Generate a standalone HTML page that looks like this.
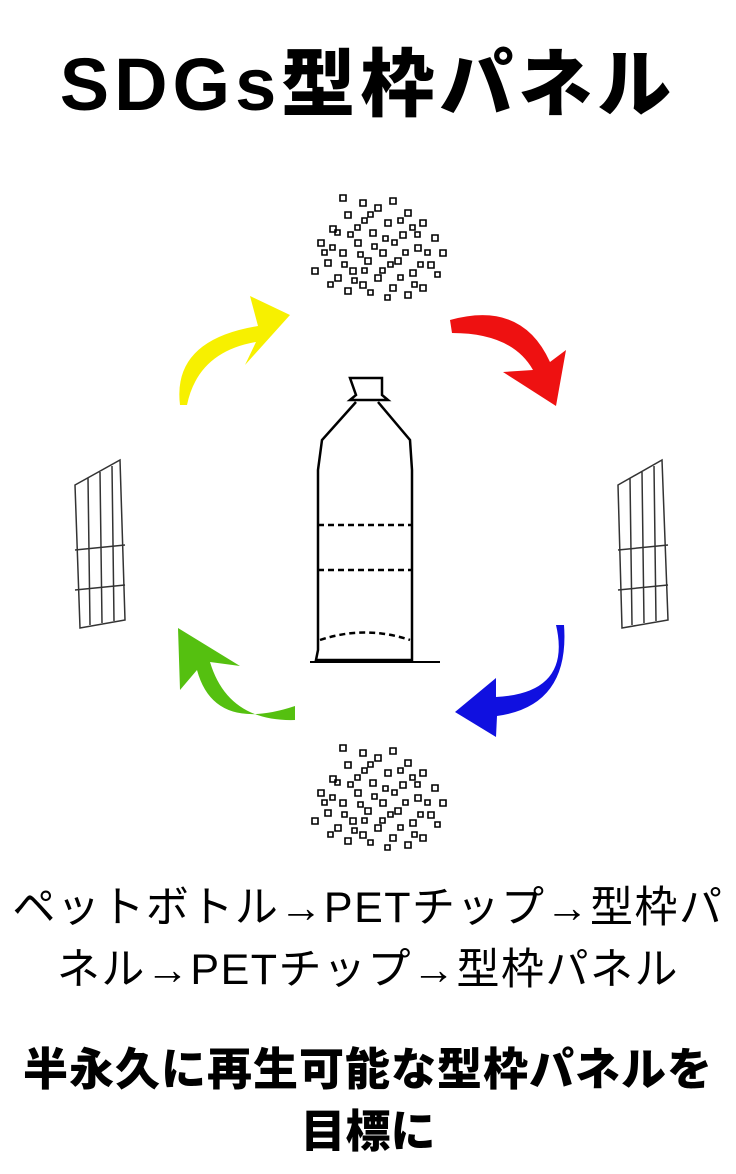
<!DOCTYPE html>
<html><head><meta charset="utf-8"><style>
body{margin:0;width:736px;height:1174px;background:#fff;position:relative;overflow:hidden;font-family:"Liberation Sans","Noto Sans CJK JP",sans-serif}
.t{position:absolute;left:0;width:736px;text-align:center;white-space:nowrap}
</style></head><body>
<div class="t" style="top:42px;font-size:74px;font-weight:900;letter-spacing:5px;line-height:86px">SDGs型枠パネル</div>
<svg width="736" height="1174" style="position:absolute;left:0;top:0" xmlns="http://www.w3.org/2000/svg">
<path d="M180,405 Q172,340 258,326 L250,296 L290,315 L245,365 L256,342 Q198,352 187,405 Z" fill="#f7f000"/>
<path d="M450,320 Q522,300 550,362 L566,350 L556,406 L503,372 L533,370 Q512,333 452,333 Z" fill="#ee1111"/>
<path d="M556,625 Q572,693 496,697 L496,678 L455,712 L496,737 L497,716 Q570,706 564,625 Z" fill="#1010e0"/>
<path d="M295,720 Q228,722 210,662 L240,666 L178,628 L180,690 L197,670 Q214,733 295,706 Z" fill="#55c010"/>
<g fill="none" stroke="#000" stroke-width="2.5">
<path d="M350,378 L382,378 L382,395 L388,400 L350,400 L356,395 Z"/>
<path d="M356,402 L322,440 L318,470 L318,650 L316,660 L412,660 L412,470 L410,440 L378,402"/>
<path d="M318,525 L412,525 M318,570 L412,570 M320,640 Q365,625 410,640" stroke-dasharray="6 4"/>
<path d="M310,662 L440,662" stroke-width="2"/>
</g>
<g fill="none" stroke="#333" stroke-width="1.5">
<path d="M75,485 L120,460 L125,620 L80,628 Z M88,478 L90,625 M100,472 L102,623 M112,466 L114,621"/>
<path d="M75,550 L125,545 M75,590 L125,585"/>
<path d="M618,485 L662,460 L668,620 L622,628 Z M630,478 L632,625 M642,472 L644,623 M654,466 L656,621"/>
<path d="M618,550 L668,545 M618,590 L668,585"/>
</g>
<g fill="none" stroke="#000" stroke-width="1.6">
<g id="pile">
<path d="M318,240 h6v6h-6z M330,226 h6v6h-6z M345,212 h6v6h-6z M360,200 h6v6h-6z M375,205 h6v6h-6z M390,198 h6v6h-6z M405,210 h6v6h-6z M420,220 h6v6h-6z M432,235 h6v6h-6z M440,250 h6v6h-6z M325,260 h6v6h-6z M340,250 h6v6h-6z M355,240 h6v6h-6z M370,230 h6v6h-6z M385,220 h6v6h-6z M400,232 h6v6h-6z M415,245 h6v6h-6z M428,262 h6v6h-6z M335,275 h6v6h-6z M350,268 h6v6h-6z M365,258 h6v6h-6z M380,250 h6v6h-6z M395,258 h6v6h-6z M410,270 h6v6h-6z M420,285 h6v6h-6z M345,288 h6v6h-6z M360,282 h6v6h-6z M375,275 h6v6h-6z M390,285 h6v6h-6z M405,292 h6v6h-6z M340,195 h6v6h-6z M312,268 h6v6h-6z M335,230 h5v5h-5z M362,218 h5v5h-5z M392,240 h5v5h-5z M410,225 h5v5h-5z M355,225 h5v5h-5z M380,268 h5v5h-5z M398,275 h5v5h-5z M368,290 h5v5h-5z"/>
<path d="M322,250 h5v5h-5z M348,232 h5v5h-5z M368,212 h5v5h-5z M383,236 h5v5h-5z M398,218 h5v5h-5z M415,232 h5v5h-5z M425,250 h5v5h-5z M435,272 h5v5h-5z M342,262 h5v5h-5z M358,252 h5v5h-5z M372,244 h5v5h-5z M388,262 h5v5h-5z M403,250 h5v5h-5z M418,262 h5v5h-5z M328,282 h5v5h-5z M352,278 h5v5h-5z M385,295 h5v5h-5z M412,282 h5v5h-5z M330,245 h5v5h-5z M362,268 h5v5h-5z"/>
</g>
<use href="#pile" y="550"/>
</g>
</svg>
<div class="t" style="top:880px;font-size:43px;line-height:56px;letter-spacing:1.5px">ペットボトル→PETチップ→型枠パ</div>
<div class="t" style="top:942px;font-size:43px;line-height:56px;letter-spacing:1.5px">ネル→PETチップ→型枠パネル</div>
<div class="t" style="top:1042px;font-size:45px;font-weight:900;line-height:56px;letter-spacing:1px">半永久に再生可能な型枠パネルを</div>
<div class="t" style="top:1104px;font-size:45px;font-weight:900;line-height:56px">目標に</div>
</body></html>
